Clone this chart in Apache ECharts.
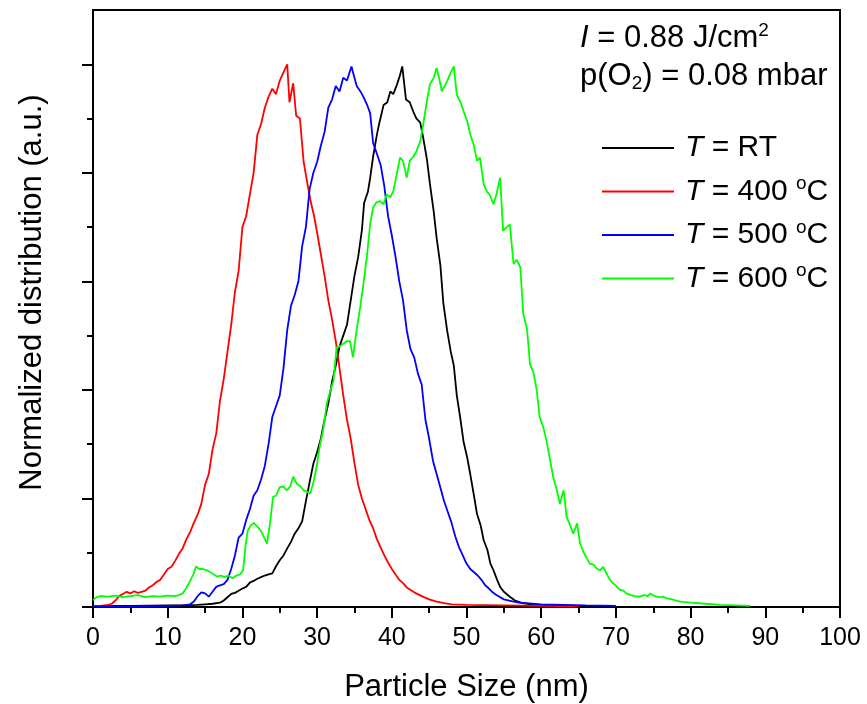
<!DOCTYPE html>
<html>
<head>
<meta charset="utf-8">
<title>Particle size distribution</title>
<script src="https://cdn.jsdelivr.net/npm/echarts@6/dist/echarts.min.js"></script>
<style>
  html, body { margin: 0; padding: 0; background: #fff; }
  #chart { width: 867px; height: 704px; }
</style>
</head>
<body>
<div id="chart"></div>
<script>
// series names (legend order)
const seriesNames = ['T = RT', 'T = 400 °C', 'T = 500 °C', 'T = 600 °C'];
const seriesColors = ['#000000', '#ff0000', '#0000ff', '#00ff00'];

// x tick labels (nm)
const xTicks = [0, 10, 20, 30, 40, 50, 60, 70, 80, 90, 100];
// y major ticks (no labels shown)
const yTicks = [0, 0.2, 0.4, 0.6, 0.8, 1.0];

// [size (nm), normalized distribution]
const distRT = [
  [0,0.002],[5,0.002],[10,0.003],[12,0.003],[14,0.004],[15,0.005],[16,0.006],[17,0.008],[17.5,0.012],[18,0.018],
  [18.5,0.024],[19,0.026],[19.5,0.03],[20,0.034],[20.5,0.037],[21,0.045],[21.5,0.048],[22,0.052],[22.5,0.055],[23,0.058],
  [23.5,0.06],[24,0.062],[24.5,0.075],[25,0.086],[25.5,0.095],[26,0.108],[26.5,0.12],[27,0.135],[27.5,0.145],[28,0.158],
  [28.5,0.195],[29,0.23],[29.5,0.264],[30,0.285],[30.5,0.31],[31,0.345],[31.5,0.375],[32,0.415],[32.5,0.445],[33,0.48],
  [33.5,0.5],[34,0.52],[34.5,0.565],[35,0.61],[35.5,0.645],[36,0.695],[36.3,0.745],[36.8,0.765],[37.1,0.79],[37.5,0.83],
  [38,0.87],[38.3,0.89],[38.9,0.925],[39.4,0.93],[39.8,0.95],[40.2,0.945],[40.7,0.963],[41.1,0.98],[41.4,0.996],[41.9,0.935],
  [42.4,0.93],[42.9,0.912],[43.3,0.9],[43.8,0.893],[44.2,0.865],[44.7,0.825],[45.1,0.78],[45.6,0.73],[46,0.68],[46.5,0.63],
  [46.9,0.56],[47.4,0.51],[47.9,0.47],[48.3,0.445],[48.7,0.39],[49.2,0.345],[49.6,0.305],[50.1,0.275],[50.5,0.245],[51,0.205],
  [51.4,0.172],[51.9,0.15],[52.3,0.123],[52.8,0.105],[53.2,0.08],[53.6,0.068],[54.1,0.05],[54.5,0.037],[55,0.028],[55.8,0.019],
  [56.5,0.012],[57.5,0.007],[59,0.004],[62,0.002],[65,0.001]
];

const dist400 = [
  [0,0.002],[1,0.002],[2,0.004],[2.5,0.006],[3,0.012],[3.5,0.02],[4,0.024],[4.5,0.028],[5,0.025],[5.5,0.029],
  [6,0.026],[6.5,0.028],[7,0.03],[7.5,0.036],[8,0.04],[8.5,0.046],[9,0.05],[9.5,0.06],[10,0.07],[10.5,0.074],
  [11,0.085],[11.5,0.098],[12,0.108],[12.5,0.125],[13,0.138],[13.5,0.155],[14,0.17],[14.5,0.19],[15,0.225],[15.5,0.245],
  [16,0.29],[16.5,0.32],[17,0.38],[17.5,0.42],[18,0.47],[18.5,0.52],[19,0.58],[19.5,0.62],[20,0.7],[20.5,0.72],
  [21,0.76],[21.5,0.8],[22,0.87],[22.5,0.89],[23,0.92],[23.5,0.94],[24,0.955],[24.5,0.945],[25,0.97],[25.5,0.985],
  [26,1.0],[26.3,0.93],[26.8,0.965],[27.2,0.905],[27.7,0.9],[28.2,0.82],[28.7,0.78],[29.1,0.75],[29.6,0.72],[30,0.69],
  [30.5,0.65],[31,0.61],[31.5,0.565],[32,0.53],[32.5,0.49],[33,0.44],[33.5,0.39],[34,0.345],[34.5,0.31],[35,0.265],
  [35.5,0.225],[36,0.2],[36.5,0.18],[37,0.16],[37.5,0.145],[38,0.125],[38.5,0.11],[39,0.095],[39.5,0.082],[40,0.07],
  [40.5,0.06],[41,0.05],[41.5,0.044],[42,0.036],[43,0.027],[44,0.02],[45,0.014],[46,0.01],[47,0.007],[48,0.005],
  [50,0.004],[55,0.003],[60,0.002],[65,0.001]
];

const dist500 = [
  [0,0.001],[5,0.001],[10,0.002],[12,0.003],[13,0.005],[13.5,0.01],[14,0.02],[14.5,0.027],[15,0.025],[15.5,0.019],
  [16,0.028],[16.5,0.037],[17,0.04],[17.5,0.042],[18,0.05],[18.5,0.07],[19,0.095],[19.5,0.128],[20,0.135],[20.5,0.16],
  [21,0.18],[21.5,0.205],[22,0.215],[22.5,0.235],[23,0.26],[23.5,0.3],[24,0.35],[24.5,0.37],[25,0.39],[25.5,0.44],
  [26,0.51],[26.5,0.555],[27,0.575],[27.5,0.6],[28,0.665],[28.5,0.7],[29,0.77],[29.5,0.8],[30,0.82],[30.5,0.85],
  [31,0.875],[31.5,0.92],[32,0.935],[32.5,0.96],[33,0.95],[33.5,0.975],[34,0.97],[34.6,0.996],[35,0.975],[35.3,0.96],
  [35.8,0.95],[36.2,0.94],[36.7,0.925],[37.1,0.91],[37.5,0.855],[38,0.835],[38.5,0.815],[39,0.775],[39.5,0.72],[40,0.685],
  [40.5,0.645],[41,0.6],[41.5,0.565],[42,0.51],[42.5,0.475],[43,0.46],[43.5,0.43],[44,0.41],[44.5,0.345],[45,0.31],
  [45.5,0.27],[46,0.245],[46.5,0.22],[47,0.195],[47.5,0.175],[48,0.155],[48.5,0.13],[49,0.11],[49.5,0.095],[50,0.08],
  [50.5,0.07],[51,0.064],[51.5,0.058],[52,0.05],[52.5,0.04],[53,0.034],[53.5,0.027],[54,0.022],[55,0.014],[56,0.011],
  [57,0.008],[58,0.007],[60,0.005],[63,0.004],[66,0.003],[70,0.002]
];

const dist600 = [
  [0,0.013],[0.5,0.018],[1,0.02],[2,0.019],[3,0.021],[4,0.018],[5,0.02],[6,0.022],[7,0.018],[8,0.02],
  [9,0.019],[10,0.021],[11,0.02],[11.5,0.022],[12,0.025],[12.5,0.035],[13,0.048],[13.5,0.062],[13.8,0.075],[14.2,0.07],
  [14.7,0.07],[15.2,0.068],[15.7,0.064],[16.2,0.06],[16.6,0.056],[17.1,0.058],[17.6,0.055],[18.1,0.058],[18.7,0.053],[19.2,0.058],
  [19.7,0.06],[20.1,0.068],[20.4,0.11],[20.7,0.14],[21.1,0.15],[21.5,0.155],[22,0.148],[22.5,0.14],[23,0.125],[23.3,0.117],
  [23.7,0.155],[24.1,0.203],[24.5,0.205],[25,0.221],[25.5,0.222],[25.9,0.215],[26.4,0.222],[26.8,0.24],[27.3,0.227],[27.8,0.222],
  [28.2,0.215],[28.7,0.212],[29.1,0.209],[29.6,0.235],[30,0.264],[30.4,0.3],[30.8,0.325],[31.3,0.375],[31.8,0.4],[32.2,0.417],
  [32.6,0.478],[33,0.48],[33.5,0.485],[34,0.49],[34.4,0.49],[34.8,0.46],[35.3,0.512],[35.8,0.555],[36.2,0.595],[36.7,0.65],
  [37.1,0.705],[37.5,0.736],[37.9,0.745],[38.4,0.748],[38.9,0.742],[39.3,0.76],[39.8,0.755],[40.2,0.766],[40.7,0.8],[41.1,0.828],
  [41.5,0.822],[42,0.791],[42.4,0.822],[42.9,0.83],[43.3,0.84],[43.8,0.858],[44.2,0.889],[44.7,0.932],[45.1,0.963],[45.6,0.975],
  [46,0.993],[46.4,0.97],[46.7,0.95],[47.1,0.96],[47.4,0.969],[47.9,0.985],[48.3,0.996],[48.7,0.944],[49.2,0.93],[49.6,0.914],
  [50.1,0.895],[50.5,0.871],[51,0.85],[51.4,0.822],[51.8,0.828],[52.3,0.779],[52.7,0.766],[53.1,0.76],[53.6,0.742],[54,0.76],
  [54.5,0.791],[54.9,0.693],[55.4,0.7],[55.8,0.705],[56.3,0.632],[56.7,0.64],[57.2,0.626],[57.6,0.54],[58.1,0.512],[58.5,0.448],
  [59,0.43],[59.4,0.399],[59.8,0.35],[60.3,0.33],[60.7,0.307],[61.2,0.27],[61.6,0.24],[62.1,0.215],[62.5,0.19],[63,0.215],
  [63.4,0.166],[63.9,0.15],[64.3,0.135],[64.8,0.154],[65.2,0.117],[65.7,0.1],[66.1,0.09],[66.5,0.08],[67,0.078],[67.5,0.07],
  [67.9,0.068],[68.3,0.074],[68.8,0.06],[69.2,0.05],[69.6,0.044],[70.1,0.038],[70.5,0.032],[71,0.03],[71.4,0.025],[72,0.022],
  [72.5,0.02],[73.2,0.019],[73.8,0.022],[74.3,0.02],[74.6,0.025],[75.2,0.02],[75.8,0.018],[76.3,0.019],[76.8,0.016],[77.5,0.014],
  [78.6,0.01],[80,0.008],[82,0.006],[84,0.004],[86,0.003],[88,0.002]
];

const seriesData = [distRT, dist400, dist500, dist600];

const FONT = '"Liberation Sans", Arial, sans-serif';
const BIG = 31;   // axis names and annotation text
const LEG = 30;   // legend text
const LH = 34;

// rich styles for italic symbols, super- and subscripts
const makeRich = size => ({
  i: { fontStyle: 'italic', fontSize: size, fontFamily: FONT, color: '#000', lineHeight: LH },
  n: { fontSize: size, fontFamily: FONT, color: '#000', lineHeight: LH },
  sup: { fontSize: 19, fontFamily: FONT, color: '#000', verticalAlign: 'top', lineHeight: LH },
  sub: { fontSize: 19, fontFamily: FONT, color: '#000', verticalAlign: 'bottom', lineHeight: LH }
});

const chart = echarts.init(document.getElementById('chart'), null, { renderer: 'canvas' });

const option = {
  animation: false,
  backgroundColor: '#fff',
  grid: {
    left: 93, right: 27, top: 10, bottom: 97,
    outerBoundsMode: 'none',
    show: true, borderColor: '#000', borderWidth: 2, backgroundColor: 'transparent'
  },
  legend: {
    orient: 'vertical',
    left: 597,
    top: 126,
    icon: 'rect',
    itemWidth: 72,
    itemHeight: 2,
    itemGap: 9.5,
    data: seriesNames,
    formatter: name => '{i|T}{n|' + name.slice(1).replace(' °C', ' }{sup|o}{n|C') + '}',
    textStyle: { fontSize: LEG, fontFamily: FONT, color: '#000', lineHeight: LH, padding: [0, 0, 0, 6], rich: makeRich(LEG) }
  },
  xAxis: {
    type: 'value',
    min: xTicks[0],
    max: xTicks[xTicks.length - 1],
    interval: 10,
    name: 'Particle Size (nm)',
    nameLocation: 'middle',
    nameGap: 65,
    nameTextStyle: { fontSize: BIG, fontFamily: FONT, color: '#000' },
    axisLine: { show: true, lineStyle: { color: '#000', width: 2 } },
    axisTick: { show: true, length: 11, lineStyle: { color: '#000', width: 2 } },
    minorTick: { show: true, splitNumber: 2, length: 6, lineStyle: { color: '#000', width: 2 } },
    axisLabel: { margin: 19, fontSize: 25, fontFamily: FONT, color: '#000' },
    splitLine: { show: false }
  },
  yAxis: {
    type: 'value',
    min: 0,
    max: 1.1,
    interval: 0.2,
    name: 'Normalized distribution (a.u.)',
    nameLocation: 'middle',
    nameGap: 45,
    nameTextStyle: { fontSize: BIG, fontFamily: FONT, color: '#000', padding: [0, 0, 0, 32] },
    axisLine: { show: true, lineStyle: { color: '#000', width: 2 } },
    axisTick: { show: true, length: 11, customValues: yTicks, lineStyle: { color: '#000', width: 2 } },
    minorTick: { show: true, splitNumber: 2, length: 6, lineStyle: { color: '#000', width: 2 } },
    axisLabel: { show: false },
    splitLine: { show: false }
  },
  graphic: [
    {
      type: 'text', left: 580, top: 21,
      style: { text: '{i|I}{n| = 0.88 J/cm}{sup|2}', rich: makeRich(BIG), fill: '#000' }
    },
    {
      type: 'text', left: 580, top: 61,
      style: { text: '{n|p(O}{sub|2}{n|) = 0.08 mbar}', rich: makeRich(BIG), fill: '#000' }
    }
  ],
  series: seriesNames.map((name, idx) => ({
    name: name,
    type: 'line',
    data: seriesData[idx],
    symbol: 'none',
    showSymbol: false,
    lineStyle: { color: seriesColors[idx], width: 1.8 },
    itemStyle: { color: seriesColors[idx] }
  }))
};

chart.setOption(option);
</script>
</body>
</html>
